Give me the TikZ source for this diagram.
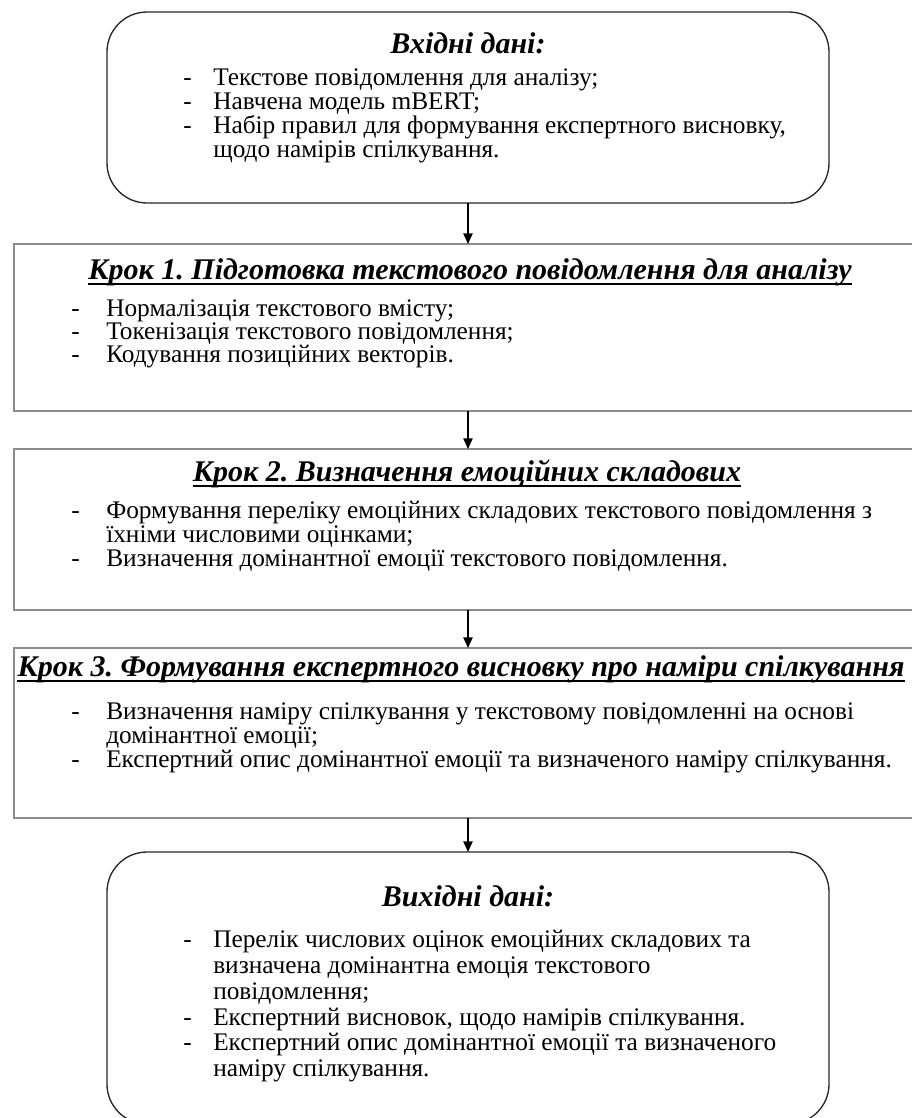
\documentclass[tikz,border=0pt]{standalone}
\usepackage{fontspec}
\setmainfont{Liberation Serif}
\usetikzlibrary{arrows.meta}
\frenchspacing
\tikzset{
  rbox/.style={draw=black!85, line width=1pt, rounded corners=30pt},
  sbox/.style={draw=black!45, line width=1.8pt},
  head/.style={font=\fontsize{22.5pt}{24pt}\selectfont\bfseries\itshape, inner sep=0pt, anchor=base},
  dashmark/.style={font=\fontsize{19pt}{22pt}\selectfont, inner sep=0pt, anchor=west},
  item/.style={font=\fontsize{19pt}{22pt}\selectfont, inner sep=0pt, anchor=west, text height=0.7em, text depth=0.2em},
  flow/.style={line width=1pt, -{Triangle[length=8pt,width=7pt]}},
  uline/.style={line width=1.3pt}
}
\begin{document}
\begin{tikzpicture}[x=0.75pt,y=-0.75pt]
\useasboundingbox (0,0) rectangle (912,1118);
\clip (0,0) rectangle (912,1118);

% input data
\draw[rbox] (107,12) rectangle (829,203);
\coordinate (in-s) at (468,203);
\node[head] (in-h) at (468,53) {Вхідні дані:};
\node[dashmark] (in-d1) at (183,82) {-};
\node[item] (in-1) at (213,82) {Текстове повідомлення для аналізу;};
\node[dashmark] (in-d2) at (183,106) {-};
\node[item] (in-2) at (213,106) {Навчена модель mBERT;};
\node[dashmark] (in-d3) at (183,130) {-};
\node[item] (in-3) at (213,130) {Набір правил для формування експертного висновку,};
\node[item] (in-4) at (213,154) {щодо намірів спілкування.};

% step 1
\draw[sbox] (14,244) rectangle (940,411);
\coordinate (s1-n) at (468,244);
\coordinate (s1-s) at (468,411);
\node[head] (s1-h) at (470,279) {Крок 1. Підготовка текстового повідомлення для аналізу};
\draw[uline] ([yshift=-4pt]s1-h.base west) -- ([yshift=-4pt]s1-h.base east);
\node[dashmark] (s1-d1) at (71,313) {-};
\node[item] (s1-1) at (106,313) {Нормалізація текстового вмісту;};
\node[dashmark] (s1-d2) at (71,336) {-};
\node[item] (s1-2) at (106,336) {Токенізація текстового повідомлення;};
\node[dashmark] (s1-d3) at (71,359) {-};
\node[item] (s1-3) at (106,359) {Кодування позиційних векторів.};

% step 2
\draw[sbox] (14,449) rectangle (940,610);
\coordinate (s2-n) at (468,449);
\coordinate (s2-s) at (468,610);
\node[head] (s2-h) at (467,481) {Крок 2. Визначення емоційних складових};
\draw[uline] ([yshift=-4pt]s2-h.base west) -- ([yshift=-4pt]s2-h.base east);
\node[dashmark] (s2-d1) at (71,515) {-};
\node[item] (s2-1) at (106,515) {Формування переліку емоційних складових текстового повідомлення з};
\node[item] (s2-2) at (106,539) {їхніми числовими оцінками;};
\node[dashmark] (s2-d3) at (71,563) {-};
\node[item] (s2-3) at (106,563) {Визначення домінантної емоції текстового повідомлення.};

% step 3
\draw[sbox] (14,648) rectangle (940,818);
\coordinate (s3-n) at (468,648);
\coordinate (s3-s) at (468,818);
\node[head] (s3-h) at (461,676) {Крок 3. Формування експертного висновку про наміри спілкування};
\draw[uline] ([yshift=-4pt]s3-h.base west) -- ([yshift=-4pt]s3-h.base east);
\node[dashmark] (s3-d1) at (71,716) {-};
\node[item] (s3-1) at (106,716) {Визначення наміру спілкування у текстовому повідомленні на основі};
\node[item] (s3-2) at (106,740) {домінантної емоції;};
\node[dashmark] (s3-d3) at (71,764) {-};
\node[item] (s3-3) at (106,764) {Експертний опис домінантної емоції та визначеного наміру спілкування.};

% output data
\draw[rbox] (107,852) rectangle (829,1124);
\coordinate (out-n) at (468,852);
\node[head] (out-h) at (468,906) {Вихідні дані:};
\node[dashmark] (out-d1) at (183,944) {-};
\node[item] (out-1) at (213,944) {Перелік числових оцінок емоційних складових та};
\node[item] (out-2) at (213,970) {визначена домінантна емоція текстового};
\node[item] (out-3) at (213,996) {повідомлення;};
\node[dashmark] (out-d4) at (183,1022) {-};
\node[item] (out-4) at (213,1022) {Експертний висновок, щодо намірів спілкування.};
\node[dashmark] (out-d5) at (183,1047) {-};
\node[item] (out-5) at (213,1047) {Експертний опис домінантної емоції та визначеного};
\node[item] (out-6) at (213,1073) {наміру спілкування.};

% connectors
\draw[flow] (in-s) -- (s1-n);
\draw[flow] (s1-s) -- (s2-n);
\draw[flow] (s2-s) -- (s3-n);
\draw[flow] (s3-s) -- (out-n);
\end{tikzpicture}
\end{document}
